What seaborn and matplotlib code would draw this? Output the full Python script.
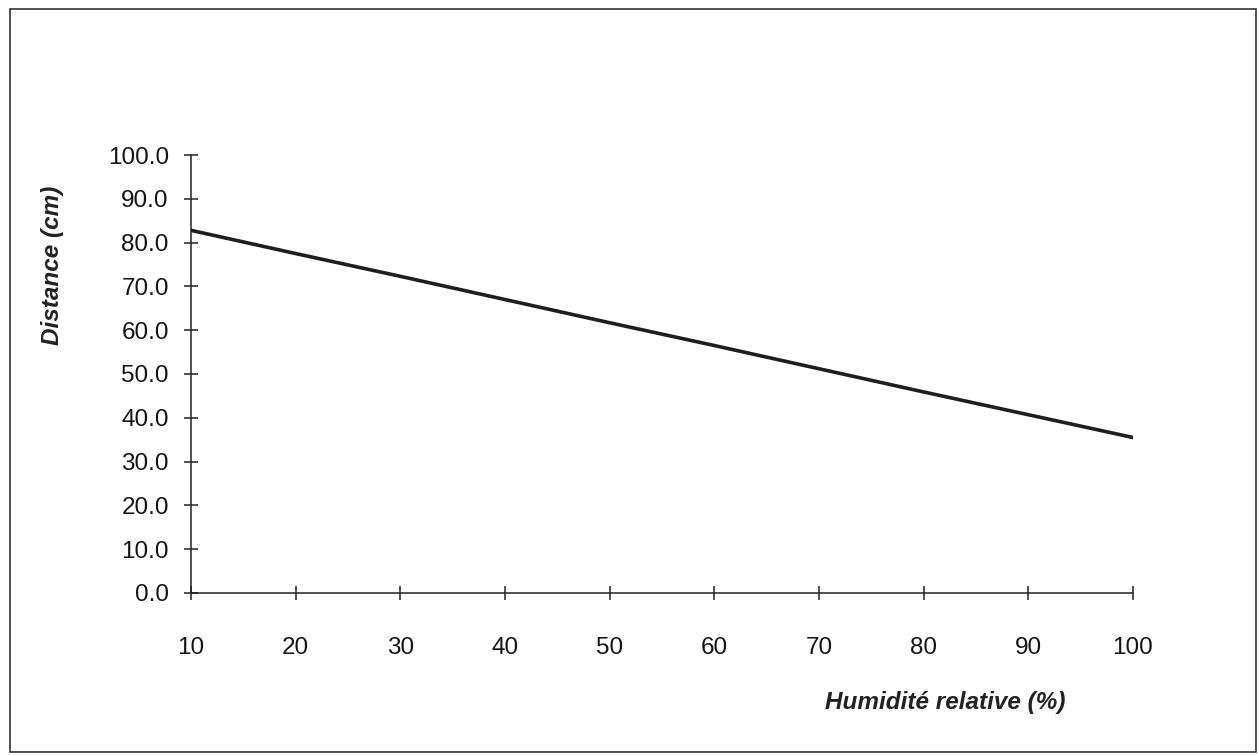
import matplotlib
matplotlib.use("Agg")
import matplotlib.pyplot as plt
import seaborn as sns
import pandas as pd
from matplotlib.patches import Rectangle

# Relative humidity (%) and measured distance (cm)
humidite = [10, 20, 30, 40, 50, 60, 70, 80, 90, 100]
distance = [82.8, 77.5, 72.3, 67.0, 61.7, 56.5, 51.2, 45.9, 40.7, 35.5]
x_ticks = [10, 20, 30, 40, 50, 60, 70, 80, 90, 100]
y_ticks = [0, 10, 20, 30, 40, 50, 60, 70, 80, 90, 100]

sns.set_theme(style="white")
plt.rcParams["font.family"] = ["Liberation Sans", "DejaVu Sans"]

df = pd.DataFrame({"Humidité": humidite, "Distance": distance})

fig = plt.figure(figsize=(12.59, 7.55), dpi=100)
ax = fig.add_axes([0.1517, 0.2146, 0.7482, 0.5801])

sns.lineplot(data=df, x="Humidité", y="Distance", ax=ax,
             color="#1e1e1e", linewidth=2.6)

ax.set_xlim(10, 100)
ax.set_ylim(0, 100)
ax.set_xticks(x_ticks)
ax.set_yticks(y_ticks)
ax.set_yticklabels([f"{v:.1f}" for v in y_ticks])

for side in ("top", "right"):
    ax.spines[side].set_visible(False)
for side in ("left", "bottom"):
    ax.spines[side].set_color("#222222")
    ax.spines[side].set_linewidth(1.1)

ax.tick_params(axis="both", direction="inout", length=10, width=1.1,
               color="#222222", labelsize=17.5, labelcolor="#141414",
               bottom=True, left=True)
ax.tick_params(axis="x", pad=27)
ax.tick_params(axis="y", pad=11)

ax.set_xlabel("")
ax.set_ylabel("")
fig.text(0.751, 0.069, "Humidité relative (%)", fontsize=17.5,
         fontweight="bold", fontstyle="italic", color="#222222",
         ha="center", va="center")
fig.text(0.042, 0.648, "Distance (cm)", fontsize=17.5, rotation=90,
         fontweight="bold", fontstyle="italic", color="#222222",
         ha="center", va="center")

# Frame around the whole chart
fig.patches.append(Rectangle((0.008, 0.004), 0.99, 0.984,
                             transform=fig.transFigure, fill=False,
                             edgecolor="#333333", linewidth=1.2))

fig.savefig("out.png", dpi=100, facecolor="white")
